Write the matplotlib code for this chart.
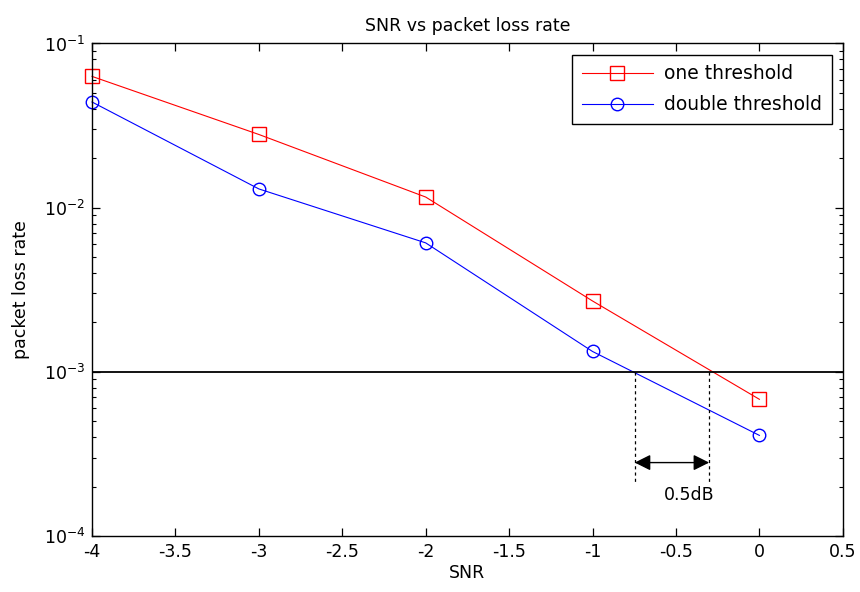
import matplotlib
matplotlib.use('Agg')
import matplotlib.pyplot as plt
from matplotlib.ticker import LogLocator, NullFormatter

snr = [-4, -3, -2, -1, 0]
one_threshold = [0.063, 0.0279, 0.0116, 0.0027, 0.00068]
double_threshold = [0.044, 0.013, 0.0061, 0.00133, 0.00041]

target_rate = 1e-3
cross_double = -0.747
cross_one = -0.301
gap_label = '0.5dB'

plt.rcParams['font.family'] = ['DejaVu Sans']
plt.rcParams['axes.unicode_minus'] = False
fs = 12.5

fig = plt.figure(figsize=(8.6, 5.92), dpi=100)
ax = fig.add_axes([0.107, 0.0946, 0.873, 0.832])

ax.semilogy(snr, one_threshold, color='#ff0000', lw=0.8, marker='s', ms=10,
            mfc='none', mec='#ff0000', mew=1.0, label='one threshold', clip_on=False)
ax.semilogy(snr, double_threshold, color='#0000ff', lw=0.8, marker='o', ms=9,
            mfc='none', mec='#0000ff', mew=1.0, label='double threshold', clip_on=False)

# 1e-3 reference level and the 0.5 dB gap between the curves
ax.axhline(target_rate, color='black', lw=1.3)
for xc in (cross_double, cross_one):
    ax.plot([xc, xc], [target_rate, 2.14e-4], color='black', lw=0.9, ls=(0, (2.5, 2.5)))
ax.annotate('', xy=(cross_one, 2.8e-4), xytext=(cross_double, 2.8e-4),
            arrowprops=dict(arrowstyle='<|-|>', color='black', lw=1.0,
                            mutation_scale=24, shrinkA=0, shrinkB=0))
ax.text((cross_double + cross_one) / 2 + 0.105, 1.78e-4, gap_label,
        ha='center', va='center', fontsize=fs)

ax.set_xlim(-4, 0.5)
ax.set_ylim(1e-4, 1e-1)
ax.set_xticks([-4, -3.5, -3, -2.5, -2, -1.5, -1, -0.5, 0, 0.5])
ax.set_xticklabels(['-4', '-3.5', '-3', '-2.5', '-2', '-1.5', '-1', '-0.5', '0', '0.5'])
ax.yaxis.set_minor_locator(LogLocator(base=10, subs=range(2, 10)))
ax.yaxis.set_minor_formatter(NullFormatter())
ax.tick_params(which='both', direction='in', top=True, right=True, labelsize=fs)
ax.tick_params(which='major', length=6, width=0.9, pad=5)
ax.tick_params(which='minor', length=3, width=0.8)
for s in ax.spines.values():
    s.set_linewidth(1.0)

ax.set_xlabel('SNR', fontsize=fs, labelpad=2)
ax.set_ylabel('packet loss rate', fontsize=fs, labelpad=10)
ax.set_title('SNR vs packet loss rate', fontsize=fs, pad=9)

leg = ax.legend(loc='upper right', fontsize=13.5, fancybox=False, framealpha=1,
                edgecolor='black', borderaxespad=0.6, handlelength=3.8,
                borderpad=0.5, labelspacing=0.65, handletextpad=0.6)
leg.get_frame().set_linewidth(1.0)

fig.savefig('out.png', dpi=100)
